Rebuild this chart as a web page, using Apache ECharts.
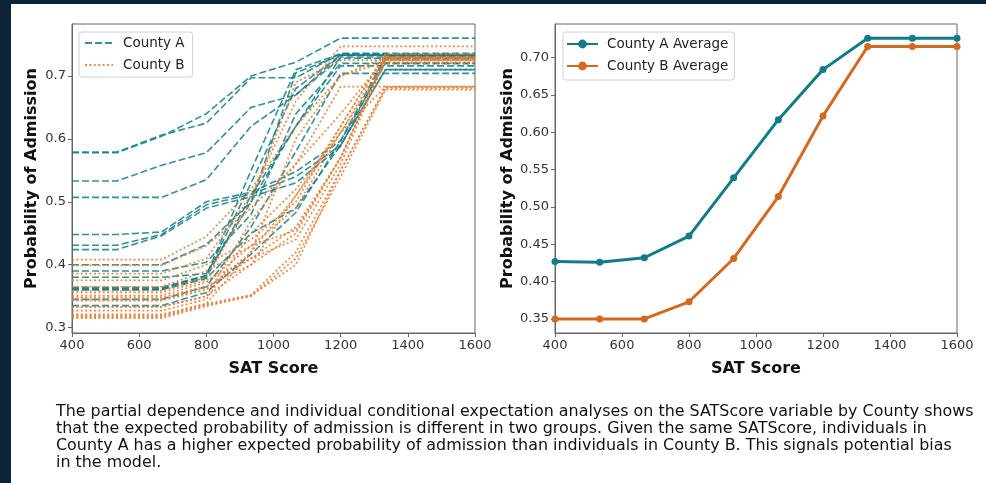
<!DOCTYPE html>
<html>
<head>
<meta charset="utf-8">
<script src="https://cdn.jsdelivr.net/npm/echarts@6/dist/echarts.min.js"></script>
<style>
  html, body { margin: 0; padding: 0; background: #ffffff; }
  #chart { width: 986px; height: 483px; }
</style>
</head>
<body>
<div id="chart"></div>
<script>
// SAT score grid shared by every curve
const satScores = [400, 533.33, 666.67, 800, 933.33, 1066.67, 1200, 1333.33, 1466.67, 1600];

// Individual conditional expectation curves, County A
const iceCountyA = [
  [0.579, 0.579, 0.606, 0.625, 0.697, 0.697, 0.736, 0.736, 0.736, 0.736],
  [0.578, 0.578, 0.604, 0.640, 0.700, 0.722, 0.760, 0.760, 0.760, 0.760],
  [0.533, 0.533, 0.558, 0.578, 0.650, 0.670, 0.728, 0.728, 0.728, 0.728],
  [0.507, 0.507, 0.507, 0.535, 0.620, 0.670, 0.733, 0.733, 0.733, 0.733],
  [0.448, 0.448, 0.452, 0.500, 0.515, 0.548, 0.597, 0.720, 0.720, 0.720],
  [0.431, 0.431, 0.448, 0.495, 0.512, 0.540, 0.590, 0.710, 0.710, 0.710],
  [0.424, 0.424, 0.446, 0.490, 0.508, 0.530, 0.588, 0.727, 0.727, 0.727],
  [0.400, 0.400, 0.400, 0.432, 0.500, 0.620, 0.716, 0.716, 0.716, 0.716],
  [0.390, 0.390, 0.390, 0.404, 0.480, 0.640, 0.720, 0.720, 0.720, 0.720],
  [0.380, 0.380, 0.380, 0.386, 0.500, 0.705, 0.733, 0.733, 0.733, 0.733],
  [0.364, 0.364, 0.364, 0.383, 0.550, 0.710, 0.735, 0.735, 0.735, 0.735],
  [0.362, 0.362, 0.362, 0.383, 0.530, 0.680, 0.733, 0.733, 0.733, 0.733],
  [0.361, 0.361, 0.361, 0.380, 0.510, 0.620, 0.730, 0.730, 0.730, 0.730],
  [0.360, 0.360, 0.360, 0.378, 0.450, 0.490, 0.590, 0.710, 0.710, 0.710],
  [0.335, 0.335, 0.335, 0.356, 0.417, 0.483, 0.597, 0.731, 0.731, 0.731],
  [0.345, 0.345, 0.345, 0.365, 0.460, 0.580, 0.704, 0.704, 0.704, 0.704]
];

// Individual conditional expectation curves, County B
const iceCountyB = [
  [0.408, 0.408, 0.408, 0.445, 0.520, 0.620, 0.700, 0.730, 0.730, 0.730],
  [0.399, 0.399, 0.399, 0.430, 0.490, 0.560, 0.683, 0.683, 0.683, 0.683],
  [0.386, 0.386, 0.386, 0.410, 0.510, 0.660, 0.747, 0.747, 0.747, 0.747],
  [0.375, 0.375, 0.375, 0.400, 0.440, 0.500, 0.620, 0.735, 0.735, 0.735],
  [0.365, 0.365, 0.365, 0.390, 0.430, 0.490, 0.610, 0.730, 0.730, 0.730],
  [0.359, 0.359, 0.359, 0.380, 0.500, 0.690, 0.725, 0.725, 0.725, 0.725],
  [0.351, 0.351, 0.351, 0.372, 0.430, 0.455, 0.570, 0.728, 0.728, 0.728],
  [0.356, 0.356, 0.356, 0.375, 0.410, 0.440, 0.560, 0.725, 0.725, 0.725],
  [0.343, 0.343, 0.343, 0.360, 0.420, 0.510, 0.620, 0.735, 0.735, 0.735],
  [0.348, 0.348, 0.348, 0.366, 0.400, 0.450, 0.570, 0.725, 0.725, 0.725],
  [0.333, 0.333, 0.333, 0.350, 0.470, 0.560, 0.640, 0.728, 0.728, 0.728],
  [0.327, 0.327, 0.327, 0.345, 0.450, 0.520, 0.610, 0.720, 0.720, 0.720],
  [0.333, 0.333, 0.333, 0.350, 0.400, 0.510, 0.610, 0.683, 0.683, 0.683],
  [0.319, 0.319, 0.319, 0.338, 0.352, 0.420, 0.550, 0.680, 0.680, 0.680],
  [0.317, 0.317, 0.317, 0.336, 0.350, 0.410, 0.540, 0.678, 0.678, 0.678],
  [0.315, 0.315, 0.315, 0.334, 0.351, 0.400, 0.550, 0.682, 0.682, 0.682],
  [0.345, 0.345, 0.345, 0.363, 0.410, 0.460, 0.570, 0.728, 0.728, 0.728],
  [0.321, 0.321, 0.321, 0.338, 0.420, 0.600, 0.700, 0.722, 0.722, 0.722]
];

// Partial dependence (average) curves
const avgCountyA = [0.427, 0.426, 0.432, 0.461, 0.539, 0.617, 0.684, 0.726, 0.726, 0.726];
const avgCountyB = [0.350, 0.350, 0.350, 0.373, 0.431, 0.514, 0.622, 0.715, 0.715, 0.715];

// Axis ticks
const xTicks = [400, 600, 800, 1000, 1200, 1400, 1600];
const yTicksLeft = [0.3, 0.4, 0.5, 0.6, 0.7];
const yTicksRight = [0.35, 0.40, 0.45, 0.50, 0.55, 0.60, 0.65, 0.70];

const caption = [
  'The partial dependence and individual conditional expectation analyses on the SATScore variable by County shows',
  'that the expected probability of admission is different in two groups. Given the same SATScore, individuals in',
  'County A has a higher expected probability of admission than individuals in County B. This signals potential bias',
  'in the model.'
].join('\n');

const TEAL = '#127c86';
const ORANGE = '#d2691e';
const ORANGE_LIGHT = '#e07a30';
const FONT = 'DejaVu Sans';

const pairs = vals => vals.map((v, i) => [satScores[i], v]);

const series = [];
iceCountyA.forEach(vals => series.push({
  name: 'County A', type: 'line', xAxisIndex: 0, yAxisIndex: 0,
  data: pairs(vals), symbol: 'none', silent: true,
  lineStyle: { color: TEAL, width: 1.6, type: [7, 3], opacity: 0.85 },
  itemStyle: { color: TEAL }
}));
iceCountyB.forEach(vals => series.push({
  name: 'County B', type: 'line', xAxisIndex: 0, yAxisIndex: 0,
  data: pairs(vals), symbol: 'none', silent: true,
  lineStyle: { color: ORANGE_LIGHT, width: 1.7, type: [2, 2.4], opacity: 0.85 },
  itemStyle: { color: ORANGE_LIGHT }
}));
series.push({
  name: 'County A Average', type: 'line', xAxisIndex: 1, yAxisIndex: 1,
  data: pairs(avgCountyA), symbol: 'circle', symbolSize: 7,
  lineStyle: { color: TEAL, width: 3 }, itemStyle: { color: TEAL }
});
series.push({
  name: 'County B Average', type: 'line', xAxisIndex: 1, yAxisIndex: 1,
  data: pairs(avgCountyB), symbol: 'circle', symbolSize: 7,
  lineStyle: { color: ORANGE, width: 3 }, itemStyle: { color: ORANGE }
});

function xAxisCfg(gridIndex) {
  return {
    type: 'value', gridIndex, min: 400, max: 1600, interval: 200,
    name: 'SAT Score', nameLocation: 'middle', nameGap: 28,
    nameTextStyle: { fontFamily: FONT, fontSize: 16, fontWeight: 'bold', color: '#111' },
    axisLine: { show: true, lineStyle: { color: '#666', width: 1 } },
    axisTick: { show: true, length: 4, lineStyle: { color: '#666' }, customValues: xTicks },
    axisLabel: {
      fontFamily: FONT, fontSize: 13, color: '#333', margin: 6, customValues: xTicks,
      formatter: v => String(Math.round(v))
    },
    splitLine: { show: false }
  };
}
function yAxisCfg(gridIndex, min, max, ticks, digits, gap) {
  return {
    type: 'value', gridIndex, min, max,
    name: 'Probability of Admission', nameLocation: 'middle', nameGap: gap,
    nameTextStyle: { fontFamily: FONT, fontSize: 16, fontWeight: 'bold', color: '#111' },
    axisLine: { show: true, lineStyle: { color: '#666', width: 1 } },
    axisTick: { show: true, length: 4, lineStyle: { color: '#666' }, customValues: ticks },
    axisLabel: {
      fontFamily: FONT, fontSize: 13, color: '#333', margin: 6, customValues: ticks,
      formatter: v => v.toFixed(digits)
    },
    splitLine: { show: false }
  };
}

const chart = echarts.init(document.getElementById('chart'), null, { renderer: 'canvas' });
chart.setOption({
  animation: false,
  backgroundColor: '#ffffff',
  textStyle: { fontFamily: FONT },
  grid: [
    { left: 72, top: 24, width: 403, height: 309, show: true, borderColor: '#666', borderWidth: 1, backgroundColor: 'transparent' },
    { left: 555, top: 24, width: 402, height: 309, show: true, borderColor: '#666', borderWidth: 1, backgroundColor: 'transparent' }
  ],
  xAxis: [xAxisCfg(0), xAxisCfg(1)],
  yAxis: [
    yAxisCfg(0, 0.2915, 0.7825, yTicksLeft, 1, 32),
    yAxisCfg(1, 0.3312, 0.7451, yTicksRight, 2, 38)
  ],
  legend: [
    {
      data: ['County A', 'County B'], orient: 'vertical', left: 79, top: 32,
      itemWidth: 28, itemHeight: 14, itemGap: 8,
      padding: [4, 8, 5, 5],
      itemStyle: { opacity: 0 },
      backgroundColor: '#ffffff', borderColor: '#d0d0d0', borderWidth: 1, borderRadius: 3,
      textStyle: { fontFamily: FONT, fontSize: 13.5, color: '#222', padding: [0, 0, 0, 5] },
      selectedMode: false
    },
    {
      data: ['County A Average', 'County B Average'], orient: 'vertical', left: 563, top: 32,
      itemWidth: 31, itemHeight: 11, itemGap: 8,
      padding: [5, 6, 7, 3],
      backgroundColor: '#ffffff', borderColor: '#d0d0d0', borderWidth: 1, borderRadius: 3,
      textStyle: { fontFamily: FONT, fontSize: 13.5, color: '#222', padding: [0, 0, 0, 4] },
      selectedMode: false
    }
  ],
  graphic: [
    { type: 'rect', left: 0, top: 0, shape: { width: 986, height: 4 }, style: { fill: '#0b2438' }, z: 100 },
    { type: 'rect', left: 0, top: 0, shape: { width: 11, height: 483 }, style: { fill: '#0b2438' }, z: 100 },
    {
      type: 'text', left: 56, top: 403, z: 100,
      style: { text: caption, font: '15.9px "DejaVu Sans"', fill: '#111', lineHeight: 17 }
    }
  ],
  series
});
</script>
</body>
</html>
